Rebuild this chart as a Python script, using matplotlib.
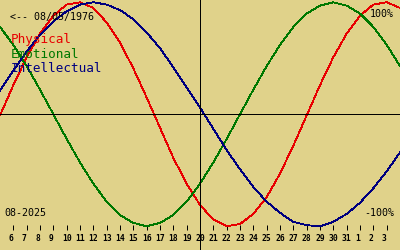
import matplotlib
matplotlib.use('Agg')
import matplotlib.pyplot as plt

# days of the month shown (Aug 5 .. Sep 4), 32..35 = Sep 1..4
days = list(range(5, 36))
physical = [-1, 26, 51, 72, 88, 98, 100, 95, 82, 64, 41, 15, -12, -39, -62, -81,
            -94, -100, -98, -89, -74, -53, -28, -1, 26, 51, 72, 88, 98, 100, 95]
emotional = [78, 62, 43, 22, 0, -22, -43, -62, -78, -90, -97, -100, -97, -90, -78, -62,
             -43, -22, 0, 22, 43, 62, 78, 90, 97, 100, 97, 90, 78, 62, 43]
intellectual = [21, 39, 56, 71, 83, 92, 98, 100, 98, 93, 85, 73, 59, 42, 24, 6,
                -13, -32, -49, -65, -78, -88, -96, -99, -100, -96, -89, -79, -66, -51, -34]

tick_days = list(range(6, 35))
tick_labels = [str(d) for d in range(6, 32)] + ['1', '2', '3']
today = 20
birth = '08/05/1976'
month = '08-2025'

bg = '#E0D28A'
c_phys = '#E80000'
c_emo = '#007800'
c_int = '#00007F'
mono = 'DejaVu Sans Mono'
lw = 0.72

fig = plt.figure(figsize=(4, 2.5), dpi=100)
fig.patch.set_facecolor(bg)
ax = fig.add_axes([0, 0, 1, 1])
ax.set_facecolor(bg)

ax.plot(days, physical, color=c_phys, lw=0.6, antialiased=False)
ax.plot(days, emotional, color=c_emo, lw=0.6, antialiased=False)
ax.plot(days, intellectual, color=c_int, lw=0.6, antialiased=False)
ax.axhline(0, color='black', lw=lw, antialiased=False)
ax.axvline(today, color='black', lw=lw, antialiased=False)

ax.set_xlim(5, 35)
ax.set_ylim(-121.2, 102.05)

for s in ['top', 'left', 'right']:
    ax.spines[s].set_visible(False)
ax.spines['bottom'].set_position(('axes', 0.08))
ax.spines['bottom'].set_visible(False)
ax.set_yticks([])
ax.set_xticks(tick_days)
lbls = ax.set_xticklabels(tick_labels)
ax.tick_params(axis='x', direction='in', length=3.6, width=lw, pad=3.0,
               labelsize=5.8, colors='black')
for lbl in lbls:
    lbl.set_fontweight('bold')
    lbl.set_family(mono)
    if len(lbl.get_text()) == 1:
        lbl.set_ha('right')

ax.text(10 / 400, 1 - 17 / 250, '<-- ' + birth, transform=ax.transAxes,
        ha='left', va='center', fontsize=7.2, family=mono)
ax.text(10.5 / 400, 1 - 42.7 / 250, 'Physical', transform=ax.transAxes,
        ha='left', va='baseline', fontsize=9.1, family=mono, color=c_phys)
ax.text(10.5 / 400, 1 - 57.5 / 250, 'Emotional', transform=ax.transAxes,
        ha='left', va='baseline', fontsize=9.1, family=mono, color=c_emo)
ax.text(10.5 / 400, 1 - 72.5 / 250, 'Intellectual', transform=ax.transAxes,
        ha='left', va='baseline', fontsize=9.1, family=mono, color=c_int)
ax.text(394 / 400, 1 - 16.5 / 250, '100%', transform=ax.transAxes,
        ha='right', va='baseline', fontsize=7.2, family=mono)
ax.text(394 / 400, 1 - 216 / 250, '-100%', transform=ax.transAxes,
        ha='right', va='baseline', fontsize=7.2, family=mono)
ax.text(4 / 400, 1 - 216 / 250, month, transform=ax.transAxes,
        ha='left', va='baseline', fontsize=7.2, family=mono)

fig.savefig('out.png', dpi=100, facecolor=bg)
